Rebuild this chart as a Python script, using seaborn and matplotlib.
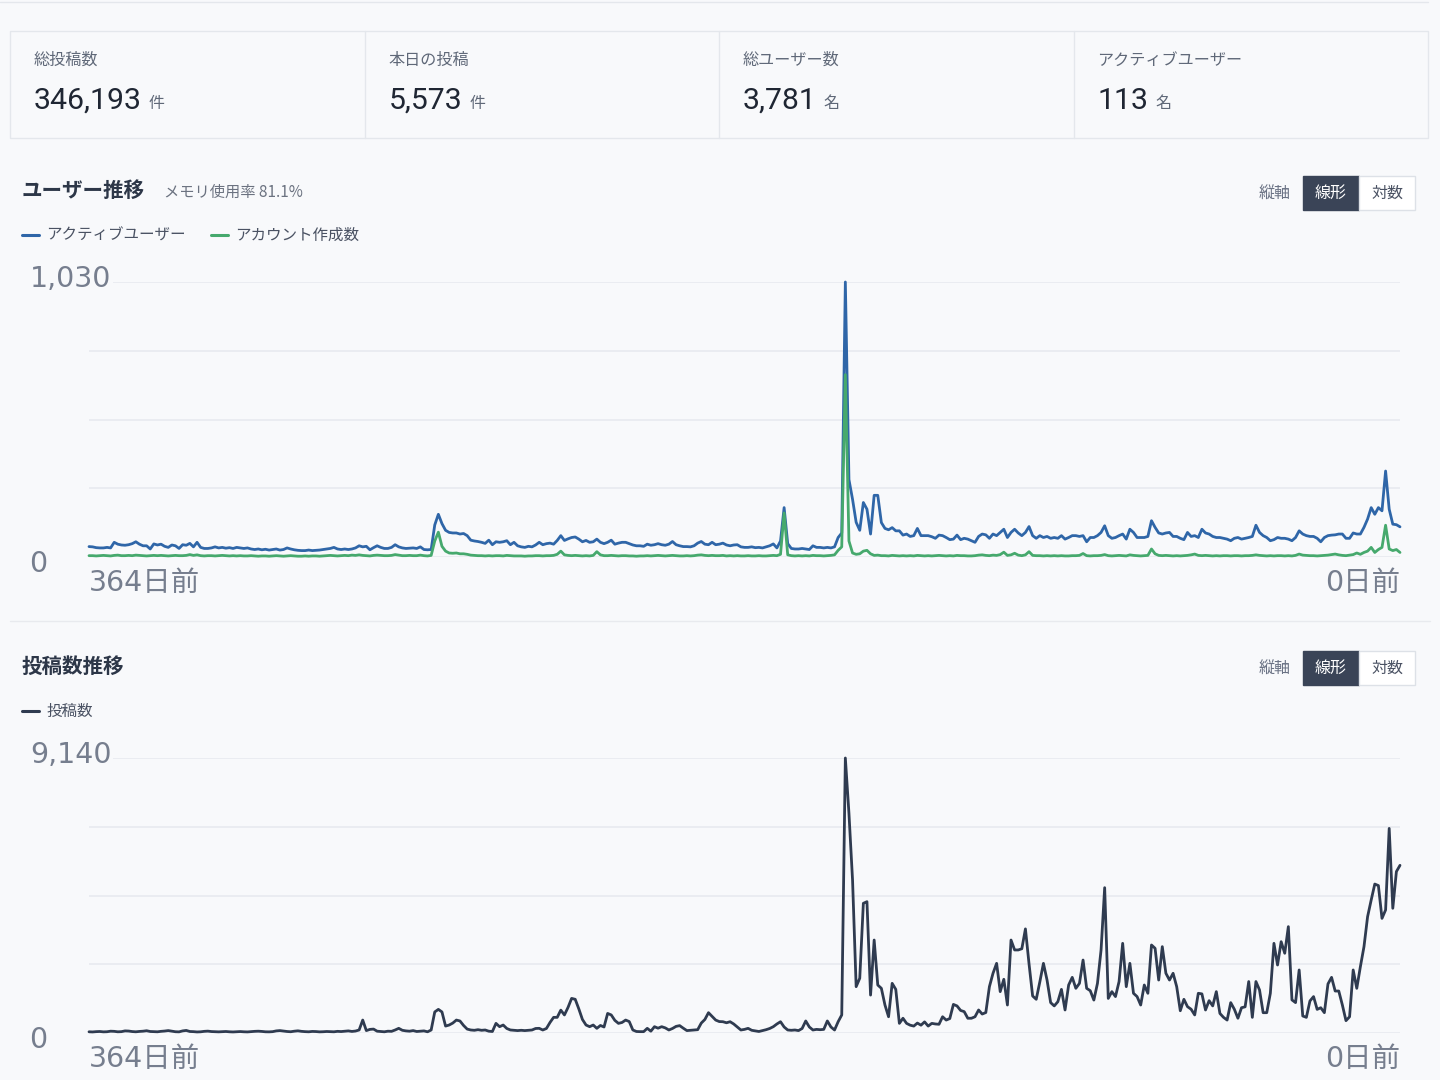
import numpy as np
import pandas as pd
import matplotlib
matplotlib.use("Agg")
import matplotlib.pyplot as plt
from matplotlib.lines import Line2D
from matplotlib.patches import Rectangle
from matplotlib.transforms import offset_copy
import seaborn as sns

# ---- data ----
stat_labels = ["総投稿数", "本日の投稿", "総ユーザー数", "アクティブユーザー"]
stat_values = ["346,193", "5,573", "3,781", "113"]
stat_units = ["件", "件", "名", "名"]

days_ago = list(range(364, -1, -1))

active_users = [
    39, 38, 35, 34, 34, 36, 34, 55, 48, 45, 44, 46, 50, 57, 48, 42, 42, 30, 49, 45,
    48, 40, 36, 45, 42, 32, 46, 44, 51, 38, 55, 36, 32, 32, 34, 38, 34, 36, 33, 35,
    32, 36, 34, 32, 34, 30, 28, 30, 27, 29, 26, 28, 30, 26, 28, 34, 30, 27, 25, 24,
    24, 26, 24, 25, 26, 28, 30, 32, 36, 30, 28, 30, 28, 30, 34, 42, 38, 40, 27, 35,
    42, 36, 32, 32, 36, 46, 38, 34, 32, 33, 34, 32, 38, 28, 27, 28, 120, 160, 125, 100,
    92, 90, 90, 86, 88, 80, 63, 60, 58, 55, 51, 63, 46, 57, 55, 57, 61, 46, 55, 42,
    38, 36, 40, 38, 45, 55, 46, 50, 52, 48, 62, 80, 62, 68, 73, 75, 67, 57, 62, 55,
    57, 67, 55, 50, 55, 63, 48, 52, 55, 55, 50, 45, 42, 42, 40, 48, 44, 46, 50, 46,
    44, 48, 58, 46, 42, 39, 39, 38, 42, 52, 58, 48, 46, 55, 46, 48, 52, 45, 42, 45,
    46, 38, 36, 36, 38, 35, 36, 34, 38, 42, 49, 34, 60, 185, 50, 32, 30, 30, 32, 30,
    28, 42, 36, 36, 34, 36, 34, 38, 73, 90, 1030, 290, 216, 130, 100, 204, 179, 86, 231, 231,
    129, 107, 102, 110, 98, 98, 82, 86, 77, 80, 107, 80, 80, 80, 76, 70, 82, 80, 73, 65,
    67, 82, 65, 70, 67, 61, 55, 77, 86, 83, 70, 86, 80, 92, 104, 73, 92, 104, 90, 80,
    92, 114, 80, 70, 80, 73, 77, 70, 73, 70, 80, 67, 73, 80, 80, 77, 80, 57, 73, 73,
    80, 92, 117, 80, 70, 73, 80, 86, 67, 104, 92, 73, 73, 73, 77, 136, 111, 90, 86, 90,
    92, 77, 77, 70, 65, 92, 77, 80, 73, 104, 90, 86, 77, 73, 73, 70, 67, 61, 70, 73,
    67, 70, 73, 77, 119, 92, 80, 73, 61, 65, 73, 70, 70, 67, 61, 73, 98, 86, 80, 77,
    77, 70, 57, 73, 80, 82, 83, 86, 86, 70, 70, 90, 86, 86, 111, 142, 185, 160, 185, 173,
    322, 179, 123, 121, 113,
]

new_accounts = [
    5, 5, 4, 5, 6, 5, 4, 6, 7, 5, 5, 6, 5, 7, 6, 5, 4, 5, 6, 5,
    6, 5, 4, 5, 6, 5, 5, 6, 9, 6, 8, 5, 4, 5, 5, 4, 5, 6, 5, 4,
    5, 4, 5, 4, 4, 5, 4, 3, 4, 4, 3, 4, 5, 4, 3, 4, 5, 4, 3, 3,
    4, 3, 4, 4, 3, 4, 5, 6, 5, 4, 5, 6, 5, 7, 6, 8, 6, 5, 4, 6,
    7, 6, 5, 5, 6, 9, 7, 5, 5, 6, 5, 5, 7, 5, 4, 6, 60, 93, 40, 22,
    15, 14, 15, 12, 12, 10, 7, 6, 5, 5, 4, 5, 4, 5, 5, 4, 6, 5, 4, 4,
    4, 3, 4, 4, 5, 5, 4, 5, 5, 6, 10, 22, 8, 6, 5, 6, 5, 4, 5, 4,
    6, 20, 8, 5, 5, 6, 5, 4, 5, 5, 4, 4, 3, 4, 4, 5, 4, 5, 6, 5,
    4, 5, 6, 5, 4, 4, 5, 4, 5, 7, 8, 6, 5, 6, 5, 5, 6, 4, 5, 4,
    5, 4, 4, 5, 4, 4, 5, 4, 4, 5, 6, 5, 10, 165, 8, 5, 4, 5, 4, 5,
    4, 6, 5, 5, 4, 5, 6, 8, 25, 38, 683, 60, 15, 10, 12, 22, 25, 12, 6, 7,
    5, 5, 4, 6, 5, 4, 5, 4, 5, 4, 6, 5, 4, 5, 4, 5, 6, 5, 4, 5,
    4, 6, 5, 5, 4, 4, 5, 7, 8, 6, 5, 7, 6, 9, 18, 6, 8, 14, 7, 5,
    8, 20, 6, 5, 5, 4, 5, 4, 5, 4, 5, 4, 4, 5, 5, 6, 13, 5, 4, 5,
    5, 6, 9, 5, 4, 5, 6, 5, 4, 8, 6, 5, 4, 5, 6, 30, 12, 6, 5, 6,
    5, 4, 5, 4, 5, 6, 8, 11, 6, 5, 6, 5, 4, 5, 4, 5, 5, 4, 5, 5,
    4, 5, 5, 6, 8, 6, 5, 4, 5, 4, 5, 5, 4, 5, 4, 6, 11, 7, 6, 5,
    5, 4, 5, 6, 7, 9, 11, 8, 6, 5, 7, 9, 15, 10, 17, 22, 36, 17, 28, 36,
    119, 30, 24, 28, 17,
]

posts = [
    40, 35, 45, 50, 38, 42, 60, 55, 40, 45, 70, 65, 48, 40, 52, 60, 75, 50, 45, 40,
    55, 65, 80, 60, 42, 38, 70, 85, 50, 45, 35, 40, 55, 62, 48, 42, 38, 45, 50, 40,
    35, 42, 48, 40, 36, 45, 55, 60, 52, 40, 38, 45, 70, 80, 65, 50, 42, 60, 72, 55,
    45, 40, 52, 48, 38, 42, 50, 45, 40, 55, 48, 60, 70, 52, 65, 100, 430, 80, 120, 130,
    60, 50, 40, 60, 55, 100, 155, 90, 70, 60, 80, 50, 60, 70, 40, 100, 700, 785, 700, 230,
    265, 330, 430, 400, 250, 130, 100, 90, 110, 90, 100, 60, 50, 320, 210, 265, 150, 100, 90, 80,
    90, 80, 90, 100, 150, 155, 100, 150, 350, 520, 520, 760, 600, 850, 1150, 1120, 800, 450, 265, 210,
    265, 155, 250, 200, 650, 600, 420, 320, 350, 430, 380, 100, 50, 45, 45, 155, 60, 210, 160, 210,
    170, 100, 150, 220, 245, 160, 80, 90, 100, 110, 330, 450, 675, 550, 430, 380, 375, 340, 375, 300,
    200, 100, 120, 155, 90, 70, 50, 80, 110, 150, 210, 300, 375, 200, 100, 90, 100, 80, 150, 400,
    200, 100, 120, 110, 120, 400, 200, 100, 375, 600, 9140, 7300, 5085, 1540, 1820, 4310, 4365, 1260, 3090, 1595,
    1485, 930, 540, 1650, 1450, 320, 490, 320, 260, 230, 330, 260, 370, 230, 320, 300, 290, 540, 430, 480,
    950, 900, 750, 710, 490, 490, 540, 765, 630, 680, 1540, 1985, 2315, 1375, 1785, 930, 3090, 2760, 2760, 2800,
    3460, 2300, 1230, 1120, 1700, 2315, 1760, 1010, 900, 1040, 1450, 765, 1595, 1850, 1485, 1650, 2425, 1485, 1405, 1095,
    1650, 2760, 4830, 1150, 1375, 1210, 1710, 2980, 1540, 2315, 1320, 1210, 930, 1595, 1320, 2925, 2815, 1760, 2870, 1985,
    1760, 1985, 1540, 740, 1120, 875, 790, 600, 1320, 1300, 765, 1075, 900, 1375, 650, 520, 430, 1010, 790, 490,
    840, 870, 1710, 520, 1710, 1430, 675, 675, 1320, 2980, 2260, 3035, 2650, 3535, 1100, 1010, 2095, 565, 520, 1065,
    1210, 785, 840, 675, 1630, 1850, 1395, 1395, 930, 410, 540, 2095, 1485, 2205, 2870, 3865, 4420, 4950, 4900, 3810,
    4090, 6800, 4145, 5365, 5573,
]

users_max, users_max_label = 1030, "1,030"
posts_max, posts_max_label = 9140, "9,140"

# ---- style ----
BG = "#f8f9fb"
BORDER = "#e4e7ec"
GRID = "#e9ebf0"
BLUE = "#2f66a8"
GREEN = "#46a96d"
NAVY = "#2f3b50"
AXIS_TXT = "#767e8e"

sns.set_style("white")
plt.rcParams["font.family"] = ["Noto Sans CJK JP", "DejaVu Sans"]

W, H = 1440, 1080
fig = plt.figure(figsize=(14.4, 10.8), dpi=100, facecolor=BG)


def fx(px):
    return px / W


def fy(py):
    return 1 - py / H


def hline(y, x0, x1, color=BORDER, lw=1.0):
    fig.add_artist(Line2D([fx(x0), fx(x1)], [fy(y), fy(y)], transform=fig.transFigure, color=color, lw=lw))


def box(x0, y0, x1, y1, face, edge, lw=1.0):
    fig.add_artist(Rectangle((fx(x0), fy(y1)), fx(x1) - fx(x0), fy(y0) - fy(y1), transform=fig.transFigure,
                             facecolor=face, edgecolor=edge, lw=lw))


# top border line
hline(2, 0, 1428)

# stat cards
box(10, 31, 1428, 138, BG, BORDER)
card_w = (1428 - 10) / 4
renderer = fig.canvas.get_renderer()
for i, (lab, val, unit) in enumerate(zip(stat_labels, stat_values, stat_units)):
    left = 10 + i * card_w
    if i > 0:
        fig.add_artist(Line2D([fx(left), fx(left)], [fy(31), fy(138)], transform=fig.transFigure, color=BORDER, lw=1.0))
    fig.text(fx(left + 24), fy(60), lab, fontsize=11.6, color="#5f6878", va="center", ha="left")
    t = fig.text(fx(left + 24), fy(109), val, fontsize=21.8, color="#1f2633", va="baseline", ha="left",
                 family=["Roboto", "DejaVu Sans"])
    bb = t.get_window_extent(renderer=renderer)
    fig.text((bb.x1 + 7) / W, fy(108), unit, fontsize=11.5, color="#5f6878", va="baseline", ha="left")


def buttons(yc):
    fig.text(fx(1275), fy(yc), "縦軸", fontsize=11.5, color="#6b7385", ha="center", va="center")
    box(1303, yc - 17, 1359, yc + 17, "#3a4457", "#3a4457")
    box(1359, yc - 17, 1415, yc + 17, "white", "#dde1e7")
    fig.text(fx(1331), fy(yc), "線形", fontsize=11.5, color="white", ha="center", va="center")
    fig.text(fx(1387), fy(yc), "対数", fontsize=11.5, color="#4a5263", ha="center", va="center")


def legend_item(x, yc, color, label):
    fig.add_artist(Line2D([fx(x), fx(x + 17)], [fy(yc), fy(yc)], transform=fig.transFigure, color=color, lw=2.2))
    fig.text(fx(x + 24), fy(yc), label, fontsize=11.2, color="#4a5263", ha="left", va="center")


def draw_chart(top, bottom, df, palette, ymax, ymax_label):
    ax = fig.add_axes([fx(89), fy(bottom), fx(1400) - fx(89), fy(top) - fy(bottom)])
    ax.patch.set_alpha(0)
    sns.lineplot(data=df, x="days_ago", y="count", hue="series", palette=palette, ax=ax,
                 linewidth=2.0, legend=False, errorbar=None, clip_on=False)
    ax.set_xlim(364, 0)
    ax.set_ylim(0, ymax)
    ax.set_yticks(np.linspace(0, ymax, 5))
    ax.set_xticks([])
    ax.grid(axis="y", color=GRID, lw=1.3)
    ax.set_axisbelow(True)
    ax.tick_params(length=0, labelleft=False, labelbottom=False)
    ax.set_xlabel("")
    ax.set_ylabel("")
    sns.despine(ax=ax, left=True, bottom=True)

    ytr = ax.get_yaxis_transform()
    ax.text(-0.045, ymax, ymax_label, transform=offset_copy(ytr, fig=fig, y=3, units="dots"),
            ha="left", va="center", fontsize=20.5, color=AXIS_TXT, family="DejaVu Sans",
            bbox=dict(facecolor=BG, edgecolor="none", pad=1.5))
    ax.text(-0.046, 0, "0", transform=offset_copy(ytr, fig=fig, y=-7, units="dots"),
            ha="left", va="center", fontsize=20.5, color=AXIS_TXT, family="DejaVu Sans")
    xtr = offset_copy(ax.get_xaxis_transform(), fig=fig, y=-26, units="dots")
    ax.text(364, 0, f"{days_ago[0]}日前", transform=xtr, ha="left", va="center", fontsize=20.5,
            color=AXIS_TXT, family=["DejaVu Sans", "Noto Sans CJK JP"])
    ax.text(0, 0, f"{days_ago[-1]}日前", transform=xtr, ha="right", va="center", fontsize=20.5,
            color=AXIS_TXT, family=["DejaVu Sans", "Noto Sans CJK JP"])
    return ax


# ---- user section ----
fig.text(fx(22), fy(190), "ユーザー推移", fontsize=14.8, weight="bold", color="#2d3748", ha="left", va="center")
fig.text(fx(164), fy(192), "メモリ使用率 81.1%", fontsize=11, color="#6b7280", ha="left", va="center")
buttons(193)
legend_item(22, 235, BLUE, "アクティブユーザー")
legend_item(211, 235, GREEN, "アカウント作成数")

users_df = pd.DataFrame({
    "days_ago": days_ago + days_ago,
    "count": active_users + new_accounts,
    "series": ["アクティブユーザー"] * len(days_ago) + ["アカウント作成数"] * len(days_ago),
})
draw_chart(282, 557, users_df, {"アクティブユーザー": BLUE, "アカウント作成数": GREEN}, users_max, users_max_label)

hline(621, 10, 1430, color="#e8eaee")

# ---- posts section ----
fig.text(fx(22), fy(666), "投稿数推移", fontsize=14.8, weight="bold", color="#2d3748", ha="left", va="center")
buttons(668)
legend_item(22, 711, NAVY, "投稿数")

posts_df = pd.DataFrame({"days_ago": days_ago, "count": posts, "series": ["投稿数"] * len(days_ago)})
draw_chart(758, 1033, posts_df, {"投稿数": NAVY}, posts_max, posts_max_label)

fig.savefig("out.png", dpi=100, facecolor=BG)
